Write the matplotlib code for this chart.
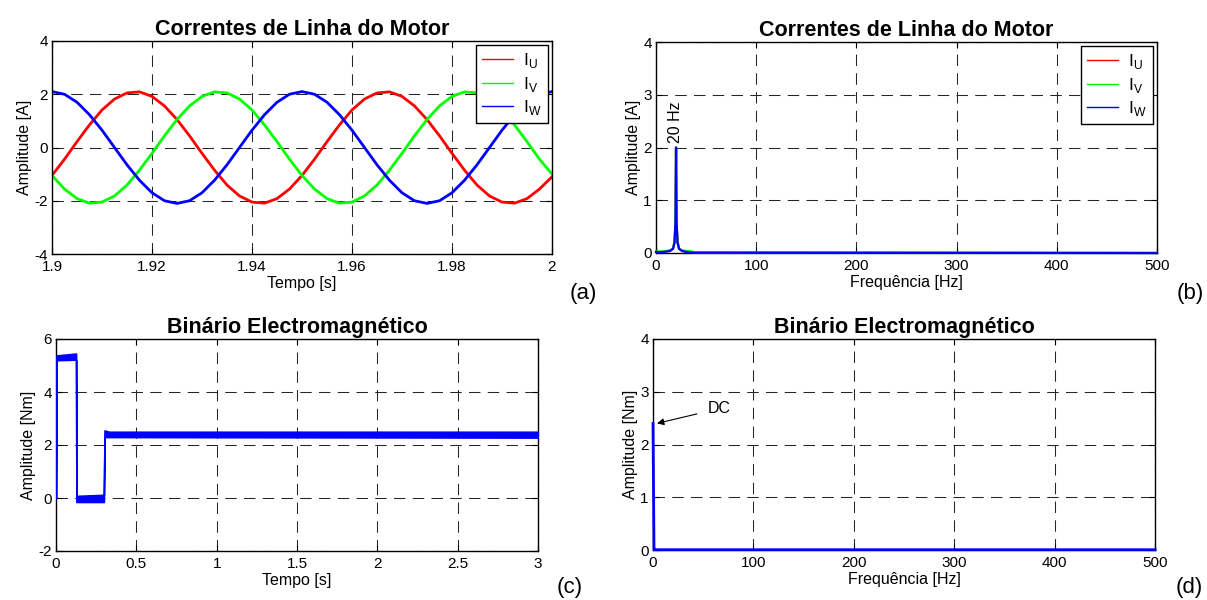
import numpy as np
import matplotlib
matplotlib.use("Agg")
import matplotlib.pyplot as plt

plt.rcParams['font.family'] = ['Liberation Sans', 'DejaVu Sans']
plt.rcParams['mathtext.fontset'] = 'custom'
plt.rcParams['mathtext.rm'] = 'Liberation Sans'
plt.rcParams['axes.unicode_minus'] = False

# (a) correntes de linha, amostradas a cada 2.5 ms entre 1.9 s e 2.0 s
t_start, t_end = 1.9, 2.0
i_u = [-1.05, -0.44, 0.22, 0.85, 1.41, 1.82, 2.05, 2.09, 1.92, 1.56,
       1.05, 0.44, -0.22, -0.85, -1.41, -1.82, -2.05, -2.09, -1.92, -1.56,
       -1.05, -0.44, 0.22, 0.85, 1.41, 1.82, 2.05, 2.09, 1.92, 1.56,
       1.05, 0.44, -0.22, -0.85, -1.41, -1.82, -2.05, -2.09, -1.92, -1.56,
       -1.10]
i_v = [-1.05, -1.56, -1.92, -2.09, -2.05, -1.82, -1.41, -0.85, -0.22, 0.44,
       1.05, 1.56, 1.92, 2.09, 2.05, 1.82, 1.41, 0.85, 0.22, -0.44,
       -1.05, -1.56, -1.92, -2.09, -2.05, -1.82, -1.41, -0.85, -0.22, 0.44,
       1.05, 1.56, 1.92, 2.09, 2.05, 1.82, 1.41, 0.85, 0.22, -0.44,
       -1.00]
i_w = [2.10, 2.00, 1.70, 1.23, 0.65, 0.00, -0.65, -1.23, -1.70, -2.00,
       -2.10, -2.00, -1.70, -1.23, -0.65, 0.00, 0.65, 1.23, 1.70, 2.00,
       2.10, 2.00, 1.70, 1.23, 0.65, 0.00, -0.65, -1.23, -1.70, -2.00,
       -2.10, -2.00, -1.70, -1.23, -0.65, 0.00, 0.65, 1.23, 1.70, 2.00,
       2.10]

# (b) espectro das correntes
freq_b = [0, 5, 10, 14, 17, 18.5, 19.5, 20, 20.5, 21.5, 23, 26, 30, 35, 40, 500]
amp_u = [0.02, 0.02, 0.03, 0.04, 0.08, 0.20, 0.60, 2.0, 0.60, 0.20, 0.08, 0.04, 0.03, 0.02, 0.01, 0.0]
amp_v = [0.03, 0.03, 0.04, 0.05, 0.09, 0.22, 0.60, 2.0, 0.60, 0.22, 0.09, 0.05, 0.04, 0.03, 0.01, 0.0]
amp_w = [0.02, 0.015, 0.025, 0.04, 0.08, 0.20, 0.60, 2.0, 0.60, 0.20, 0.08, 0.04, 0.02, 0.01, 0.005, 0.0]

# (c) binario electromagnetico (envolvente inferior / superior)
torque_t = [0.0, 0.003, 0.125, 0.127, 0.298, 0.302, 0.33, 3.0]
torque_lo = [0.0, 5.20, 5.22, -0.15, -0.15, 2.30, 2.30, 2.28]
torque_hi = [0.0, 5.38, 5.45, 0.08, 0.12, 2.55, 2.50, 2.50]

# (d) espectro do binario
freq_d = [0, 1, 2, 500]
amp_d = [2.4, 0.01, 0.005, 0.005]

ticks_a = [1.9, 1.92, 1.94, 1.96, 1.98, 2.0]
ticklabels_a = ['1.9', '1.92', '1.94', '1.96', '1.98', '2']
ticks_c = [0, 0.5, 1, 1.5, 2, 2.5, 3]
ticklabels_c = ['0', '0.5', '1', '1.5', '2', '2.5', '3']
ticks_f = [0, 100, 200, 300, 400, 500]

fig = plt.figure(figsize=(12.07, 6.0), dpi=100)
W, H = 1207, 600


def make_ax(l, r, t, b):
    ax = fig.add_axes([l / W, 1 - b / H, (r - l) / W, (b - t) / H])
    ax.grid(True, color='0.15', linewidth=0.75, linestyle=(0, (11, 7)))
    ax.tick_params(direction='in', length=4, top=True, right=True,
                   labelsize=11, pad=3)
    ax.tick_params(axis='x', pad=4.5)
    for s in ax.spines.values():
        s.set_linewidth(1.0)
    return ax


def style_legend(ax):
    leg = ax.legend(loc='upper right', fontsize=12.5, fancybox=False,
                    framealpha=1, edgecolor='black', borderaxespad=0.25,
                    handlelength=1.75, labelspacing=0.25, borderpad=0.35,
                    handletextpad=0.6)
    leg.get_frame().set_linewidth(1.0)
    for h in leg.get_lines():
        h.set_linewidth(1.0)


labels = [r'I$_\mathrm{U}$', r'I$_\mathrm{V}$', r'I$_\mathrm{W}$']
title_fs = 15.5
label_fs = 11.5

# (a)
ax = make_ax(52, 552, 41, 254)
t_a = np.linspace(t_start, t_end, len(i_u))
ax.plot(t_a, i_u, color='red', lw=2.0, label=labels[0])
ax.plot(t_a, i_v, color='lime', lw=2.0, label=labels[1])
ax.plot(t_a, i_w, color='blue', lw=2.0, label=labels[2])
ax.set_xlim(1.9, 2.0)
ax.set_ylim(-4, 4)
ax.set_xticks(ticks_a)
ax.set_xticklabels(ticklabels_a)
ax.set_yticks([-4, -2, 0, 2, 4])
ax.set_title('Correntes de Linha do Motor', fontsize=title_fs, fontweight='bold', pad=4)
ax.set_xlabel('Tempo [s]', fontsize=label_fs, labelpad=1)
ax.set_ylabel('Amplitude [A]', fontsize=label_fs, labelpad=2)
style_legend(ax)

# (b)
ax = make_ax(656, 1157, 42, 253)
ax.plot(freq_b, amp_u, color='red', lw=1.6, label=labels[0], clip_on=False, zorder=3)
ax.plot(freq_b, amp_v, color='lime', lw=1.6, label=labels[1], clip_on=False, zorder=3)
ax.plot(freq_b, amp_w, color='blue', lw=1.6, label=labels[2], clip_on=False, zorder=3)
ax.set_xlim(0, 500)
ax.set_ylim(0, 4)
ax.set_xticks(ticks_f)
ax.set_yticks([0, 1, 2, 3, 4])
ax.text(19, 2.08, '20 Hz', rotation=90, ha='center', va='bottom', fontsize=11.5)
ax.set_title('Correntes de Linha do Motor', fontsize=title_fs, fontweight='bold', pad=4)
ax.set_xlabel('Frequência [Hz]', fontsize=label_fs, labelpad=1)
ax.set_ylabel('Amplitude [A]', fontsize=label_fs, labelpad=2)
style_legend(ax)

# (c)
ax = make_ax(56, 538, 339, 551)
ax.fill_between(torque_t, torque_lo, torque_hi, color='blue', lw=1.2,
                edgecolor='blue', zorder=3)
ax.set_xlim(0, 3)
ax.set_ylim(-2, 6)
ax.set_xticks(ticks_c)
ax.set_xticklabels(ticklabels_c)
ax.set_yticks([-2, 0, 2, 4, 6])
ax.set_title('Binário Electromagnético', fontsize=title_fs, fontweight='bold', pad=4)
ax.set_xlabel('Tempo [s]', fontsize=label_fs, labelpad=1)
ax.set_ylabel('Amplitude [Nm]', fontsize=label_fs, labelpad=2)

# (d)
ax = make_ax(653, 1155, 339, 550)
ax.plot(freq_d, amp_d, color='blue', lw=2.0, clip_on=False, zorder=3)
ax.set_xlim(0, 500)
ax.set_ylim(0, 4)
ax.set_xticks(ticks_f)
ax.set_yticks([0, 1, 2, 3, 4])
ax.annotate('DC', xy=(4, 2.4), xytext=(66, 2.68), ha='center', va='center',
            fontsize=11.5,
            arrowprops=dict(arrowstyle='-|>', color='black', lw=0.8,
                            shrinkA=6, shrinkB=0, mutation_scale=10))
ax.set_title('Binário Electromagnético', fontsize=title_fs, fontweight='bold', pad=4)
ax.set_xlabel('Frequência [Hz]', fontsize=label_fs, labelpad=1)
ax.set_ylabel('Amplitude [Nm]', fontsize=label_fs, labelpad=2)

# rotulos dos paineis
fig.text(583 / W, 1 - 293 / H, '(a)', fontsize=16, ha='center', va='center')
fig.text(1190 / W, 1 - 293 / H, '(b)', fontsize=16, ha='center', va='center')
fig.text(570 / W, 1 - 588 / H, '(c)', fontsize=16, ha='center', va='center')
fig.text(1189 / W, 1 - 588 / H, '(d)', fontsize=16, ha='center', va='center')

fig.savefig('out.png', dpi=100)
